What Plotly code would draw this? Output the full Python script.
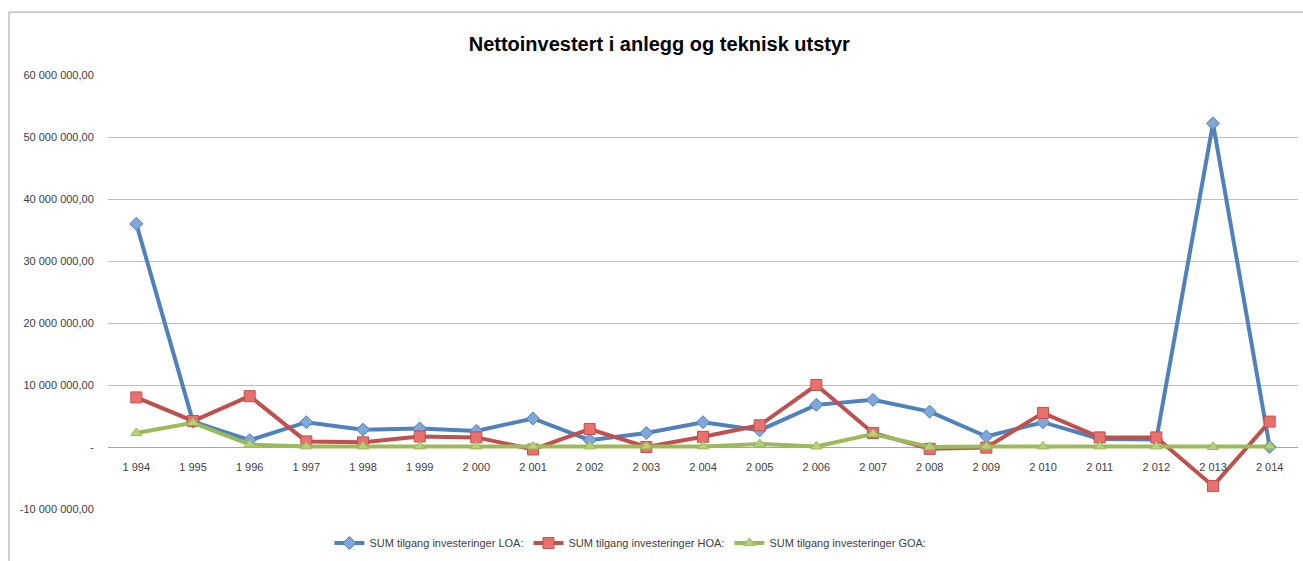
import plotly.graph_objects as go

years = ["1994","1995","1996","1997","1998","1999","2000","2001","2002","2003","2004",
         "2005","2006","2007","2008","2009","2010","2011","2012","2013","2014"]
year_labels = ["1 994","1 995","1 996","1 997","1 998","1 999","2 000","2 001","2 002","2 003","2 004",
               "2 005","2 006","2 007","2 008","2 009","2 010","2 011","2 012","2 013","2 014"]

loa = [36.0e6, 4.1e6, 1.1e6, 4.0e6, 2.8e6, 3.0e6, 2.6e6, 4.6e6, 1.1e6, 2.25e6, 4.0e6,
       2.7e6, 6.8e6, 7.6e6, 5.7e6, 1.7e6, 4.0e6, 1.3e6, 1.2e6, 52.2e6, 0.0]
hoa = [8.0e6, 4.2e6, 8.2e6, 0.9e6, 0.75e6, 1.7e6, 1.55e6, -0.4e6, 2.9e6, 0.0, 1.65e6,
       3.5e6, 10.0e6, 2.25e6, -0.3e6, -0.1e6, 5.5e6, 1.55e6, 1.55e6, -6.3e6, 4.1e6]
goa = [2.25e6, 3.9e6, 0.4e6, 0.1e6, 0.1e6, 0.1e6, 0.1e6, 0.1e6, 0.1e6, 0.1e6, 0.1e6,
       0.5e6, 0.1e6, 2.1e6, 0.0, 0.1e6, 0.1e6, 0.1e6, 0.1e6, 0.0, 0.1e6]

series_names = ["SUM tilgang investeringer LOA:", "SUM tilgang investeringer HOA:",
                "SUM tilgang investeringer GOA:"]

y_tickvals = [-10e6, 0, 10e6, 20e6, 30e6, 40e6, 50e6, 60e6]
y_ticktext = ["-10 000 000,00", "-", "10 000 000,00", "20 000 000,00", "30 000 000,00",
              "40 000 000,00", "50 000 000,00", "60 000 000,00"]

title_text = "Nettoinvestert i anlegg og teknisk utstyr"

font_fam = "Liberation Sans Narrow, Liberation Sans, Arial, sans-serif"

fig = go.Figure()
styles = [
    dict(color="#4F81BD", sym="diamond", mcolor="#7FA7DA", size=10),
    dict(color="#C0504D", sym="square", mcolor="#E8716D", size=11),
    dict(color="#9BBB59", sym="triangle-up", mcolor="#B3D27A", size=10),
]
for vals, name, st in zip([loa, hoa, goa], series_names, styles):
    fig.add_trace(go.Scatter(
        x=years, y=vals, name=name, mode="lines+markers",
        line=dict(color=st["color"], width=4),
        marker=dict(symbol=st["sym"], size=st["size"], color=st["mcolor"],
                    line=dict(color=st["color"], width=1)),
    ))

fig.update_layout(
    width=1303, height=561,
    margin=dict(l=108, r=5, t=75, b=51),
    paper_bgcolor="white", plot_bgcolor="white",
    title=dict(text="<b>" + title_text + "</b>", x=0.506, xanchor="center",
               y=0.922, yanchor="middle",
               font=dict(family=font_fam, size=20, color="#000000")),
    font=dict(family=font_fam, size=11, color="#404040"),
    showlegend=True,
    legend=dict(orientation="h", x=0.439, xanchor="center", y=-0.076, yanchor="middle",
                font=dict(family=font_fam, size=11, color="#404040"),
                itemwidth=30, tracegroupgap=0),
    xaxis=dict(
        type="category", range=[-0.5, 20.5], tickmode="array",
        tickvals=years, ticktext=year_labels,
        showgrid=False, showline=False, ticks="outside", ticklen=10,
        tickcolor="rgba(0,0,0,0)", zeroline=False,
        anchor="free", position=1/7, tickfont=dict(size=11, color="#404040"),
    ),
    yaxis=dict(
        range=[-10e6, 60e6], tickmode="array", tickvals=y_tickvals, ticktext=y_ticktext,
        showgrid=True, gridcolor="#BFBFBF", gridwidth=1, zeroline=True,
        zerolinecolor="#A6A6A6", zerolinewidth=1, showline=False,
        ticks="outside", ticklen=11, tickcolor="rgba(0,0,0,0)",
        tickfont=dict(size=11, color="#404040"),
    ),
)

# chart border (gray frame top/left)
fig.add_shape(type="line", xref="paper", yref="paper",
              x0=(9 - 108) / 1190, x1=1.01, y0=(510 - 12) / 435, y1=(510 - 12) / 435,
              line=dict(color="#A0A0A0", width=1))
fig.add_shape(type="line", xref="paper", yref="paper",
              x0=(9 - 108) / 1190, x1=(9 - 108) / 1190, y0=(510 - 12) / 435, y1=(510 - 562) / 435,
              line=dict(color="#A0A0A0", width=1))

fig.write_html("out.html")
